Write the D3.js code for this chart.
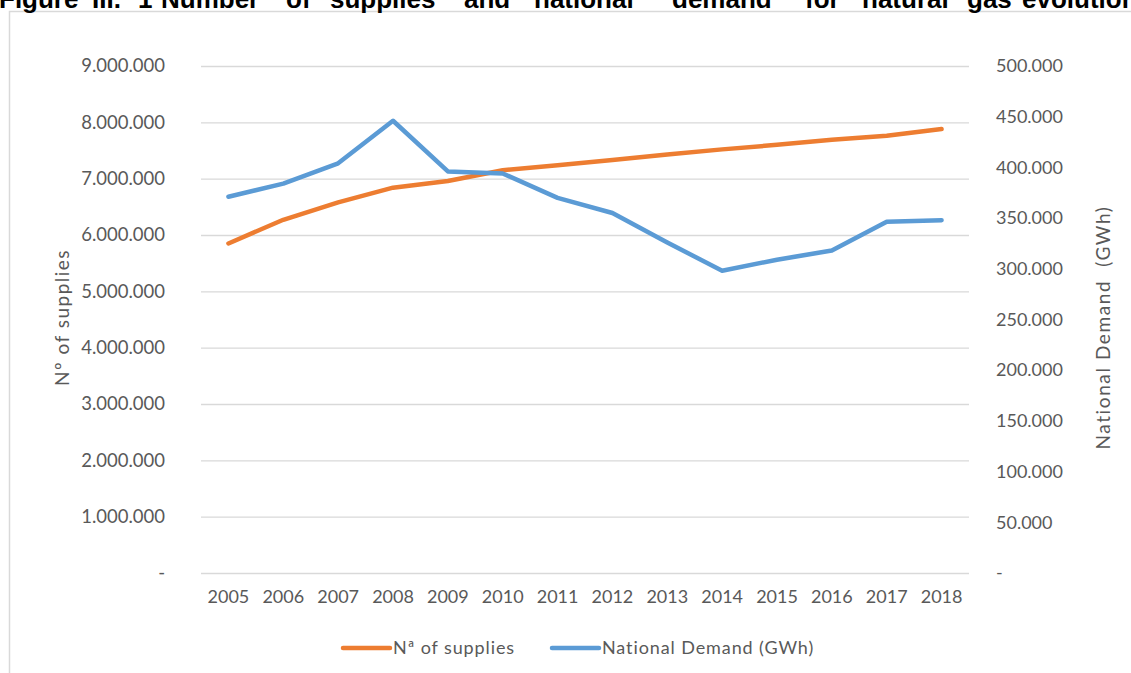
<!DOCTYPE html>
<html><head><meta charset="utf-8">
<script src="https://cdn.jsdelivr.net/npm/d3@7"></script>
<style>body{margin:0;background:#fff;overflow:hidden} svg{display:block}</style>
</head><body><svg id="c" width="1131" height="673"></svg>
<script>
const years = ["2005","2006","2007","2008","2009","2010","2011","2012","2013","2014","2015","2016","2017","2018"];
const supplies = [5850000, 6270000, 6580000, 6840000, 6960000, 7150000, 7240000, 7330000, 7430000, 7520000, 7600000, 7690000, 7760000, 7880000];
const demand = [371000, 384000, 404000, 446000, 396000, 394000, 370000, 355000, 326000, 298000, 309000, 318000, 346500, 348000];
const leftTicks = [0,1000000,2000000,3000000,4000000,5000000,6000000,7000000,8000000,9000000];
const rightTicks = [0,50000,100000,150000,200000,250000,300000,350000,400000,450000,500000];
const titleWords = ["Figure","III.","1","Number","of","supplies","and","national","demand","for","natural","gas","evolution"];
const titleX = [-1,92,138,161,286,330,464,534,672,805,862,967,1022];
const seriesNames = ["Nª of supplies","National Demand (GWh)"];
const leftTitle = "Nº of supplies";
const rightTitle = "National Demand  (GWh)";

const FONT = "Lato, 'Open Sans', sans-serif";
const TXT = "#595959";
const svg = d3.select("#c");
const loc = d3.formatLocale({decimal:",", thousands:".", grouping:[3], currency:["",""]});
const fmt = v => v === 0 ? "-" : loc.format(",")(v);

// frame
svg.append("rect").attr("x",9.5).attr("y",11.5).attr("width",1300).attr("height",800)
  .attr("fill","#fff").attr("stroke","#d9d9d9").attr("stroke-width",1.5);

// title
svg.append("g").selectAll("text").data(titleWords).join("text")
  .attr("x",(d,i)=>titleX[i]).attr("y",8)
  .attr("font-family","'Liberation Sans', Arial, sans-serif").attr("font-weight","bold")
  .attr("font-size",26).attr("fill","#000").text(d=>d);

const L = 201, R = 969, T = 66, B = 573;
const x = d3.scaleBand().domain(years).range([L,R]).padding(0);
const cx = d => x(d) + x.bandwidth()/2;
const yL = d3.scaleLinear().domain([0,9000000]).range([B,T]);
const yR = d3.scaleLinear().domain([0,500000]).range([B,T]);

// left axis with gridlines
const gL = svg.append("g").attr("transform",`translate(${L},0)`)
  .call(d3.axisLeft(yL).tickValues(leftTicks).tickSize(-(R-L)).tickPadding(36).tickFormat(fmt));
gL.select(".domain").remove();
gL.selectAll(".tick line").attr("stroke","#d9d9d9").attr("stroke-width",1.3);
gL.selectAll("text").attr("font-family",FONT).attr("font-size",18.5).attr("fill",TXT);

// right axis
const gR = svg.append("g").attr("transform",`translate(${R},0)`)
  .call(d3.axisRight(yR).tickValues(rightTicks).tickSize(0).tickPadding(27).tickFormat(fmt));
gR.select(".domain").remove();
gR.selectAll("text").attr("font-family",FONT).attr("font-size",18).attr("fill",TXT);

// bottom axis
const gB = svg.append("g").attr("transform",`translate(0,${B})`)
  .call(d3.axisBottom(x).tickSize(0).tickPadding(17));
gB.select(".domain").remove();
gB.selectAll("text").attr("font-family",FONT).attr("font-size",18).attr("fill",TXT);

// axis titles
svg.append("text").attr("transform",`translate(69,${(T+B)/2-2}) rotate(-90)`)
  .attr("text-anchor","middle").attr("font-family",FONT).attr("font-size",19)
  .attr("letter-spacing",1.5).attr("fill",TXT)
  .text(leftTitle);
svg.append("text").attr("transform",`translate(1110,${(T+B)/2+8}) rotate(-90)`)
  .attr("text-anchor","middle").attr("font-family",FONT).attr("font-size",19)
  .attr("letter-spacing",1.6).attr("fill",TXT)
  .style("white-space","pre").text(rightTitle);

// lines
const lineL = d3.line().x((d,i)=>cx(years[i])).y(d=>yL(d));
const lineR = d3.line().x((d,i)=>cx(years[i])).y(d=>yR(d));
svg.append("path").datum(supplies).attr("d",lineL).attr("fill","none")
  .attr("stroke","#ED7D31").attr("stroke-width",4.5).attr("stroke-linecap","round").attr("stroke-linejoin","round");
svg.append("path").datum(demand).attr("d",lineR).attr("fill","none")
  .attr("stroke","#5B9BD5").attr("stroke-width",4.5).attr("stroke-linecap","round").attr("stroke-linejoin","round");

// legend
const legX = [343, 552];
const legColors = ["#ED7D31","#5B9BD5"];
const lg = svg.append("g").selectAll("g").data(seriesNames).join("g")
  .attr("transform",(d,i)=>`translate(${legX[i]},648)`);
lg.append("line").attr("x1",0).attr("x2",47).attr("y1",0).attr("y2",0)
  .attr("stroke",(d,i)=>legColors[i]).attr("stroke-width",4.5).attr("stroke-linecap","round");
lg.append("text").attr("x",50).attr("y",0).attr("dy","0.35em")
  .attr("font-family",FONT).attr("font-size",18).attr("letter-spacing",0.9).attr("fill",TXT).text(d=>d);
</script></body></html>
